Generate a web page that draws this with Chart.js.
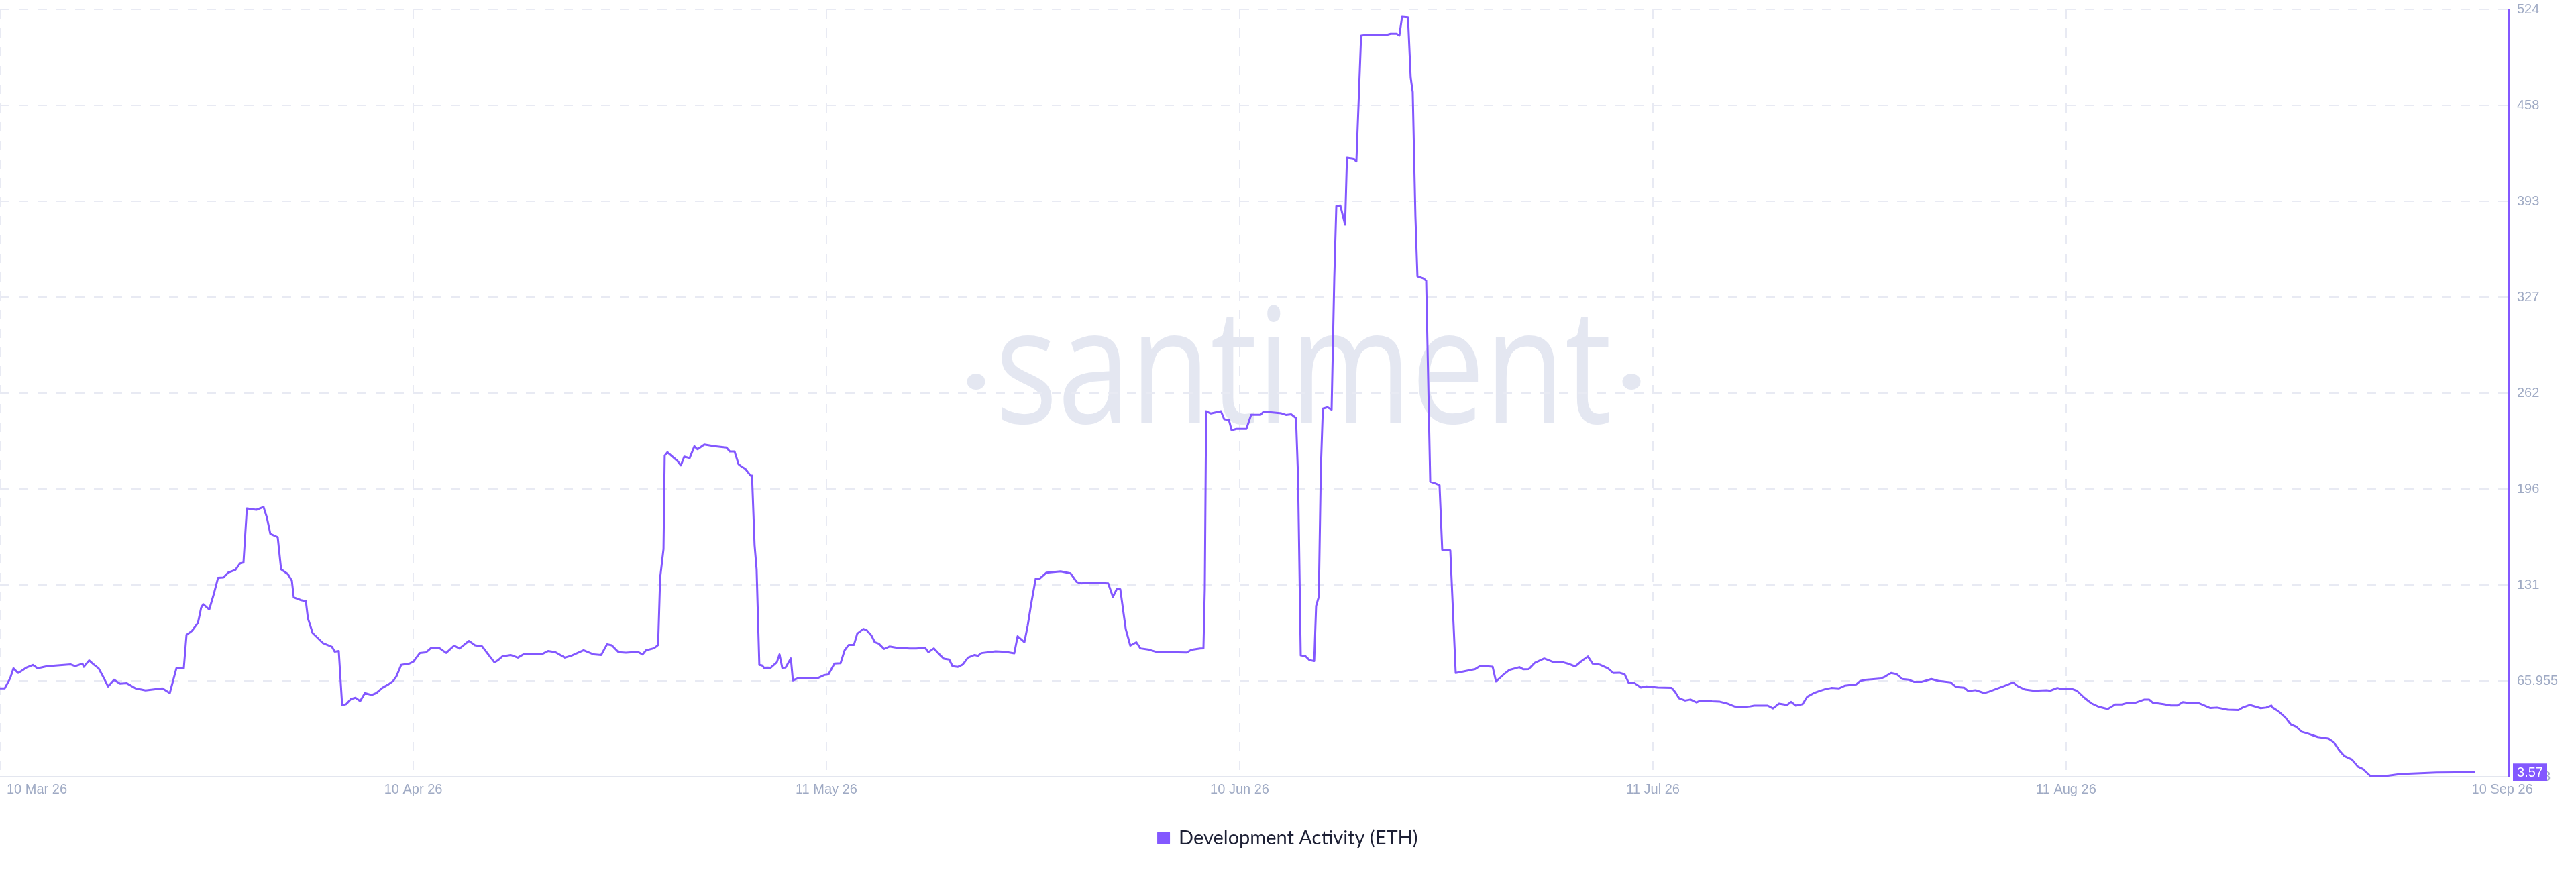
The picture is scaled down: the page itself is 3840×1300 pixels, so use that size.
<!DOCTYPE html>
<html>
<head>
<meta charset="utf-8">
<title>Development Activity (ETH)</title>
<script src="https://cdn.jsdelivr.net/npm/chart.js@4"></script>
<style>
    html, body { margin: 0; padding: 0; background: #ffffff; }
    #wrap { position: relative; width: 3840px; height: 1300px; }
</style>
</head>
<body>
<div id="wrap"><canvas id="devChart"></canvas></div>
<script>
// Days since 10 Mar 26 for every point
const dayOffsets = [
    0, 0.35, 0.75, 1.00, 1.34, 1.59, 1.94, 2.44, 2.79, 3.48, 5.23, 5.58, 6.12, 6.22, 6.62, 6.97, 7.32, 7.67, 8.02, 8.46,
    8.91, 9.41, 10.06, 10.80, 12.05, 12.60, 13.09, 13.64, 13.84, 14.24, 14.69, 14.93, 15.08, 15.53, 15.88, 16.18, 16.58, 16.93, 17.47, 17.82,
    18.07, 18.32, 19.02, 19.56, 19.81, 20.06, 20.61, 20.86, 21.36, 21.66, 21.80, 22.35, 22.70, 22.85, 23.20, 23.95, 24.64, 24.84, 25.14, 25.39,
    25.69, 26.04, 26.38, 26.73, 27.08, 27.58, 27.93, 28.38, 28.82, 29.17, 29.42, 29.77, 30.37, 30.67, 31.16, 31.61, 32.01, 32.56, 33.11, 33.70,
    34.10, 34.80, 35.25, 35.79, 36.34, 36.69, 36.94, 37.29, 37.89, 38.43, 38.93, 40.17, 40.67, 41.22, 41.92, 42.42, 43.31, 44.06, 44.61, 45.05,
    45.40, 45.90, 46.45, 47.34, 47.69, 47.94, 48.54, 48.84, 48.99, 49.24, 49.33, 49.53, 49.78, 50.28, 50.53, 50.78, 51.18, 51.53, 51.77, 52.27,
    53.02, 53.91, 54.16, 54.51, 54.81, 55.06, 55.31, 55.51, 55.71, 55.81, 56.00, 56.15, 56.35, 56.55, 56.70, 56.95, 57.20, 57.65, 57.85, 58.05,
    58.30, 58.69, 58.84, 59.19, 60.64, 61.18, 61.48, 61.93, 62.38, 62.68, 62.98, 63.37, 63.62, 64.07, 64.32, 64.67, 64.92, 65.22, 65.61, 66.01,
    66.51, 67.51, 68.00, 68.65, 68.90, 69.30, 69.79, 70.04, 70.44, 70.69, 71.09, 71.44, 71.84, 72.33, 72.58, 72.83, 73.88, 74.62, 75.27, 75.52,
    76.02, 76.27, 76.52, 76.86, 77.16, 77.66, 78.71, 79.45, 79.90, 80.20, 81.00, 82.24, 82.59, 82.89, 83.14, 83.54, 83.88, 84.33, 84.63, 85.28,
    85.78, 86.82, 88.07, 88.41, 89.06, 89.31, 89.41, 89.51, 89.86, 90.61, 90.85, 91.20, 91.40, 91.75, 92.50, 92.85, 93.55, 93.74, 94.19, 95.09,
    95.43, 95.83, 96.18, 96.33, 96.53, 96.88, 97.18, 97.53, 97.67, 97.87, 98.02, 98.17, 98.52, 98.82, 99.02, 99.17, 99.47, 99.82, 99.96, 100.41,
    100.66, 101.01, 101.51, 102.85, 103.20, 103.65, 103.85, 104.05, 104.49, 104.69, 104.84, 105.04, 105.19, 105.64, 105.84, 106.14, 106.54, 106.83, 107.03, 107.63,
    108.03, 108.43, 109.17, 109.47, 109.87, 110.77, 111.02, 111.61, 112.01, 112.76, 113.06, 113.45, 113.90, 114.60, 115.30, 116.05, 116.44, 116.89, 117.34, 117.84,
    118.19, 118.48, 118.73, 119.33, 119.73, 120.18, 120.57, 120.87, 121.32, 121.77, 122.17, 123.01, 124.06, 124.31, 124.61, 125.06, 125.45, 125.90, 126.20, 127.05,
    127.59, 128.19, 128.74, 129.19, 129.88, 130.18, 131.18, 131.58, 132.02, 132.62, 132.92, 133.27, 133.77, 134.11, 134.61, 134.96, 135.46, 135.91, 136.46, 136.90,
    137.75, 138.05, 138.45, 138.89, 139.59, 139.89, 140.34, 140.74, 141.18, 141.63, 142.03, 142.63, 143.33, 143.92, 144.77, 145.17, 145.76, 146.06, 146.61, 147.26,
    147.61, 148.20, 148.75, 149.40, 149.75, 150.29, 150.94, 151.89, 152.14, 152.68, 152.93, 153.73, 154.13, 154.68, 155.22, 155.77, 156.42, 156.97, 157.46, 157.86,
    158.41, 159.11, 159.50, 159.75, 160.55, 161.10, 161.59, 161.99, 162.54, 163.09, 163.49, 164.03, 164.53, 165.33, 166.12, 166.42, 166.97, 167.77, 168.17, 168.56,
    168.66, 169.06, 169.61, 170.01, 170.41, 170.80, 171.20, 172.00, 172.80, 173.19, 173.59, 173.99, 174.54, 174.99, 175.34, 175.93, 176.83, 178.12, 180.81, 183.65
];

// Development activity values, same order as dayOffsets
const devActivity = [
    60.8, 60.8, 67.6, 74.5, 71.3, 72.7, 74.9, 76.8, 74.5, 75.9, 77.2, 76.0, 77.7, 75.5, 79.9, 77.0, 74.5, 68.5, 62.1, 66.7,
    64.0, 64.3, 60.8, 59.4, 60.8, 57.6, 74.5, 74.5, 97.3, 100.0, 105.5, 116.0, 118.3, 114.7, 125.6, 136.2, 136.5, 139.8, 141.7, 146.2,
    146.7, 183.6, 182.7, 184.6, 177.3, 166.3, 164.0, 142.1, 138.9, 134.3, 122.9, 121.0, 120.3, 108.7, 98.6, 91.8, 89.1, 85.9, 86.3, 49.4,
    50.0, 53.5, 54.4, 52.1, 57.6, 56.3, 57.6, 61.2, 63.5, 65.8, 69.0, 76.8, 77.7, 79.0, 85.0, 85.4, 88.6, 88.6, 85.0, 90.0,
    88.0, 93.2, 90.2, 89.4, 82.7, 78.6, 79.9, 82.7, 83.6, 81.8, 84.5, 84.0, 86.3, 85.5, 81.8, 83.2, 86.8, 84.0, 83.6, 90.9,
    90.2, 85.5, 85.2, 85.7, 84.0, 86.8, 88.2, 90.4, 136.2, 155.9, 219.7, 222.0, 220.0, 216.0, 213.0, 219.0, 218.0, 226.0, 224.0, 227.2,
    226.1, 225.2, 222.5, 222.5, 213.8, 212.0, 210.6, 208.3, 206.0, 206.0, 158.5, 142.0, 76.8, 76.5, 74.9, 75.0, 74.9, 78.6, 84.0, 74.9,
    75.0, 81.3, 66.3, 67.6, 67.6, 69.9, 70.3, 77.7, 78.0, 86.8, 90.4, 90.4, 98.2, 101.4, 100.5, 96.9, 92.3, 91.3, 87.7, 89.4,
    88.6, 88.1, 88.1, 88.5, 85.5, 88.1, 83.3, 81.1, 80.5, 75.9, 75.5, 77.0, 81.8, 83.6, 83.0, 84.9, 86.1, 85.8, 84.7, 96.4,
    92.3, 103.7, 118.3, 135.7, 135.7, 139.8, 140.7, 139.3, 133.4, 132.5, 133.0, 132.5, 123.3, 128.8, 128.4, 101.4, 90.0, 92.3, 88.1, 87.2,
    85.8, 85.5, 85.3, 87.1, 88.0, 88.2, 128.8, 250.0, 248.5, 250.0, 244.5, 244.0, 237.0, 238.0, 238.0, 247.6, 247.6, 249.4, 249.4, 248.6,
    247.5, 247.9, 245.3, 205.1, 83.3, 82.8, 80.1, 79.5, 117.0, 123.4, 210.0, 251.7, 252.6, 251.0, 341.3, 390.1, 390.4, 377.3, 423.0, 422.5,
    420.5, 506.4, 507.0, 506.7, 507.6, 507.6, 506.4, 519.2, 518.8, 477.5, 467.9, 383.0, 342.0, 340.6, 339.0, 201.9, 200.6, 199.5, 155.4, 155.0,
    71.3, 72.0, 73.4, 74.0, 76.3, 75.6, 65.5, 70.5, 73.4, 75.3, 73.8, 74.0, 78.3, 81.2, 78.7, 78.5, 77.5, 75.8, 79.2, 82.6,
    77.7, 77.5, 77.0, 74.5, 71.3, 71.5, 70.4, 64.5, 64.3, 61.4, 62.2, 61.4, 61.1, 58.4, 54.0, 52.5, 53.2, 51.2, 52.5, 52.0,
    51.8, 50.4, 48.4, 48.0, 48.5, 49.0, 49.0, 47.1, 50.4, 49.5, 51.6, 49.0, 50.0, 55.0, 57.6, 58.8, 60.3, 61.1, 60.8, 62.6,
    63.5, 65.9, 66.7, 67.0, 67.6, 68.8, 71.3, 70.6, 67.2, 66.8, 65.3, 65.3, 67.2, 65.8, 64.9, 61.7, 61.3, 59.0, 59.6, 57.6,
    58.6, 60.6, 62.5, 64.9, 62.2, 60.0, 59.2, 59.5, 59.2, 61.1, 60.5, 60.5, 59.2, 54.4, 50.5, 48.2, 46.7, 49.8, 49.8, 50.8,
    50.8, 53.1, 53.1, 51.1, 50.0, 49.1, 49.1, 51.4, 50.7, 51.0, 49.5, 47.4, 47.7, 46.3, 46.0, 47.7, 49.5, 47.3, 47.7, 49.1,
    47.7, 45.4, 40.8, 36.1, 34.6, 31.2, 30.2, 27.6, 26.6, 24.2, 18.6, 14.5, 12.2, 7.3, 5.8, 0.8, 0.7, 2.3, 3.4, 3.57
];

// X axis ticks (days since 10 Mar 26) and their labels
const xTickDays = [0, 30.67, 61.33, 92, 122.67, 153.33, 185.7];
const xTickLabels = ['10 Mar 26', '10 Apr 26', '11 May 26', '10 Jun 26', '11 Jul 26', '11 Aug 26', '10 Sep 26'];
const xMaxDay = 186.19;

// Y axis ticks and their labels
const yTickValues = [0.488, 65.955, 131.422, 196.889, 262.356, 327.823, 393.29, 458.757, 524.224];
const yTickLabels = ['0.488', '65.955', '131', '196', '262', '327', '393', '458', '524'];

const seriesLabel = 'Development Activity (ETH)';

// Colors
const lineColor = '#8358ff';
const gridColor = '#e8eaf3';
const tickColor = '#9faac4';
const axisLineColor = '#e3e6ef';
const watermarkColor = '#e4e7f1';

let devChart = null;

// Faint "santiment" watermark behind the plot
const watermarkPlugin = {
    id: 'watermark',
    beforeDraw(chart) {
        const ctx = chart.ctx;
        const text = 'santiment';
        ctx.save();
        ctx.fillStyle = watermarkColor;
        ctx.font = '400 241px "Open Sans"';
        const w = ctx.measureText(text).width;
        const sx = 919 / w;
        ctx.translate(1943, 631);
        ctx.scale(sx, 1);
        ctx.textAlign = 'center';
        ctx.textBaseline = 'alphabetic';
        ctx.fillText(text, 0, 0);
        ctx.restore();

        ctx.save();
        ctx.fillStyle = watermarkColor;
        [1455, 2432].forEach(cx => {
            ctx.beginPath();
            ctx.ellipse(cx, 569, 13.5, 12, 0, 0, Math.PI * 2);
            ctx.fill();
        });
        ctx.restore();
    }
};

// Date labels under the x axis and the last value badge on the y axis
const axisExtrasPlugin = {
    id: 'axisExtras',
    afterDraw(chart) {
        const {ctx, chartArea, scales: {x, y}} = chart;

        ctx.save();
        ctx.font = '20px "Liberation Sans", Arial, sans-serif';
        ctx.fillStyle = tickColor;
        ctx.textAlign = 'center';
        ctx.textBaseline = 'middle';
        xTickDays.forEach((d, i) => {
            const w = ctx.measureText(xTickLabels[i]).width;
            const cx = Math.max(x.getPixelForValue(d), chartArea.left + 10 + w / 2);
            ctx.fillText(xTickLabels[i], cx, x.top + 19);
        });
        ctx.restore();

        // Badge with the latest value
        const last = devActivity[devActivity.length - 1];
        const by = y.getPixelForValue(last);
        const bx = chartArea.right + 6;
        ctx.save();
        ctx.fillStyle = lineColor;
        ctx.fillRect(bx, by - 13, 51, 26);
        ctx.fillStyle = '#ffffff';
        ctx.font = '20px "Liberation Sans", Arial, sans-serif';
        ctx.textAlign = 'center';
        ctx.textBaseline = 'middle';
        ctx.fillText(String(last), bx + 25.5, by + 1);
        ctx.restore();
    }
};

// Build the chart
function initializeChart() {
    const ctx = document.getElementById('devChart').getContext('2d');
    const points = dayOffsets.map((d, i) => ({ x: d, y: devActivity[i] }));

    devChart = new Chart(ctx, {
        type: 'line',
        data: {
            datasets: [{
                label: seriesLabel,
                data: points,
                borderColor: lineColor,
                backgroundColor: lineColor,
                borderWidth: 3,
                borderJoinStyle: 'round',
                pointRadius: 0,
                tension: 0
            }]
        },
        options: {
            responsive: true,
            maintainAspectRatio: false,
            animation: false,
            parsing: false,
            layout: {
                padding: { top: 14, left: 0, right: 0, bottom: 26 }
            },
            plugins: {
                tooltip: { enabled: false },
                legend: {
                    display: true,
                    position: 'bottom',
                    labels: {
                        boxWidth: 16,
                        boxHeight: 16,
                        padding: 37,
                        color: '#1d2035',
                        font: { family: 'Lato, "Open Sans", sans-serif', size: 29 }
                    }
                }
            },
            scales: {
                x: {
                    type: 'linear',
                    min: 0,
                    max: xMaxDay,
                    afterBuildTicks: axis => {
                        axis.ticks = xTickDays.map(v => ({ value: v }));
                    },
                    afterFit: scale => { scale.height = 40; },
                    ticks: { display: false },
                    grid: {
                        color: c => (c.index === xTickDays.length - 1 ? 'rgba(0,0,0,0)' : gridColor),
                        lineWidth: 2,
                        drawTicks: false
                    },
                    border: { display: true, color: axisLineColor, width: 2, dash: [14, 14] }
                },
                y: {
                    position: 'right',
                    min: yTickValues[0],
                    max: yTickValues[yTickValues.length - 1],
                    afterBuildTicks: axis => {
                        axis.ticks = yTickValues.map(v => ({ value: v }));
                    },
                    afterFit: scale => {
                        scale.width = 100;
                        // let the top label hang over the plot edge
                        scale.paddingTop = 0;
                        scale.paddingBottom = 0;
                    },
                    ticks: {
                        autoSkip: false,
                        padding: 12,
                        color: tickColor,
                        font: { family: '"Liberation Sans", Arial, sans-serif', size: 20 },
                        callback: (value, index) => yTickLabels[index]
                    },
                    grid: { color: gridColor, lineWidth: 2, drawTicks: false },
                    border: { display: true, color: lineColor, width: 2, dash: [14, 14] }
                }
            }
        },
        plugins: [watermarkPlugin, axisExtrasPlugin]
    });
}

document.addEventListener('DOMContentLoaded', () => {
    initializeChart();
});
</script>
</body>
</html>
